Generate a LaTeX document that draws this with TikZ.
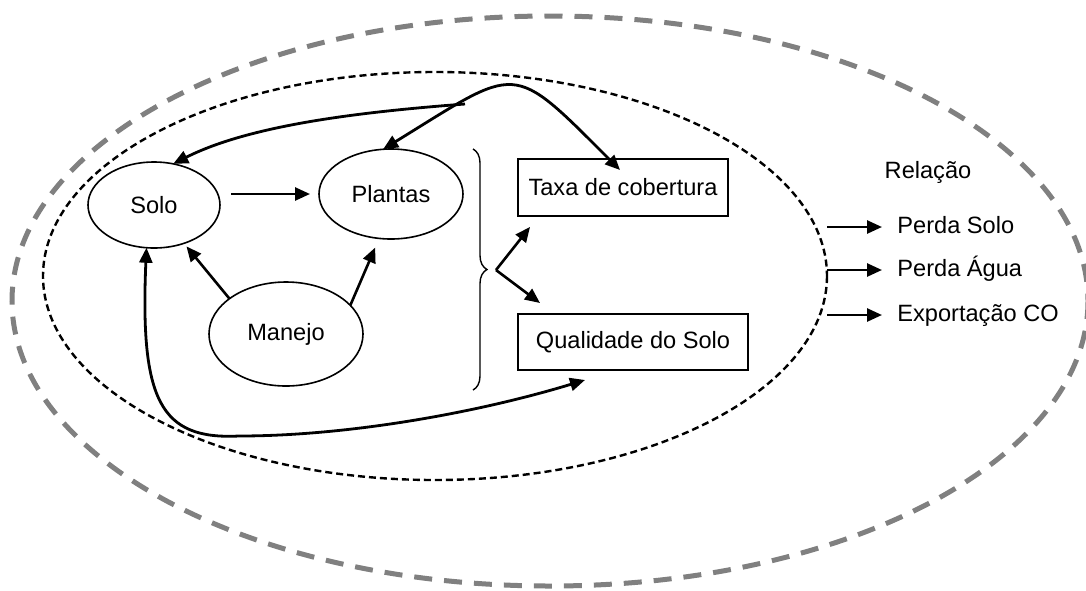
\documentclass[tikz,border=0pt]{standalone}
\usepackage{fontspec}
\setmainfont{Liberation Sans}
\usetikzlibrary{arrows.meta,decorations.pathreplacing,shapes.geometric}
\definecolor{ink}{HTML}{000000}
\definecolor{rim}{HTML}{808080}

\begin{document}
\begin{tikzpicture}[
    x=0.5pt, y=-0.5pt,
    >={Triangle[length=7.5pt,width=6.5pt]},
    line cap=butt, line join=miter,
    every node/.style={font=\fontsize{11.8}{14}\selectfont, text=ink},
    blob/.style={ellipse, draw=ink, line width=0.8pt, inner sep=0pt, outer sep=0pt},
    box/.style={rectangle, draw=ink, line width=0.9pt, inner sep=0pt, outer sep=0pt},
    arr/.style={ink, line width=1.3pt, ->},
    loopline/.style={ink, line width=1.4pt},
    outlbl/.style={anchor=west, inner sep=1pt, text height=8.5pt, text depth=2.5pt},
]
\useasboundingbox (0,0) rectangle (1086,590);

% ============================================================
% Limits: system (gray) and field (dotted)
% ============================================================
\draw[rim, line width=2.5pt, dash pattern=on 9pt off 6pt] (550,301) ellipse (538 and 285);
\draw[ink, line width=1.2pt, dash pattern=on 3.5pt off 2pt] (435,276) ellipse (392 and 204);

% ============================================================
% Factors
% ============================================================
\node[blob, minimum width=66pt, minimum height=43pt] (solo)    at (154,205) {Solo};
\node[blob, minimum width=72pt, minimum height=45pt] (plantas) at (391,194) {Plantas};
\node[blob, minimum width=77pt, minimum height=52pt] (manejo)  at (286,334) {Manejo};

\node[box, minimum width=105pt, minimum height=28.5pt] (taxa)      at (623,187.5) {Taxa de cobertura};
\node[box, minimum width=115pt, minimum height=28pt]   (qualidade) at (633,342)   {Qualidade do Solo};

% Direct links
\draw[arr, shorten <=5.5pt, shorten >=4.5pt] (solo.east |- plantas.west) -- (plantas.west);
\draw[arr, shorten >=2pt] (manejo.148) -- (solo.-52);
\draw[arr, shorten >=5pt] (manejo.24)  -- (plantas.-105);

% Long feedback curves
\coordinate (fork) at (465,104);
\draw[loopline, <->] (plantas.100) .. controls (520,65) and (510,60) .. ([shift={(-1.5pt,-5.5pt)}]taxa.north);
\draw[loopline, ->]  (fork) .. controls (360,112) and (250,125) .. (solo.65);
\draw[loopline, <->] (solo.-100) .. controls (140,400) and (160,440) .. (239,436)
                 .. controls (350,436) and (480,412) .. ([shift={(33.5pt,-5pt)}]qualidade.south west);

% Brace + split
\draw[ink, line width=0.7pt, decorate, decoration={brace, amplitude=7pt}] (473,149) -- (473,390);
\coordinate (spread) at (496,270);
\draw[arr] (spread) -- ([shift={(6pt,-5.5pt)}]taxa.south west);
\draw[arr] (spread) -- ([shift={(11pt,5.5pt)}]qualidade.north west);

% ============================================================
% Relation outputs
% ============================================================
\node (relacao) at (928,172) {Relação};
\node[outlbl] (perdaSolo) at (895,227) {Perda Solo};
\node[outlbl] (perdaAgua) at (895,270) {Perda Água};
\node[outlbl] (exportCO)  at (895,315) {Exportação CO};

\coordinate (o1) at (827,227);
\coordinate (o2) at (827,270);
\coordinate (o3) at (827,315);
\draw[arr, shorten >=6.5pt] (o1) -- (perdaSolo);
\draw[arr, shorten >=6.5pt] (o2) -- (perdaAgua);
\draw[arr, shorten >=6.5pt] (o3) -- (exportCO);

\end{tikzpicture}
\end{document}
